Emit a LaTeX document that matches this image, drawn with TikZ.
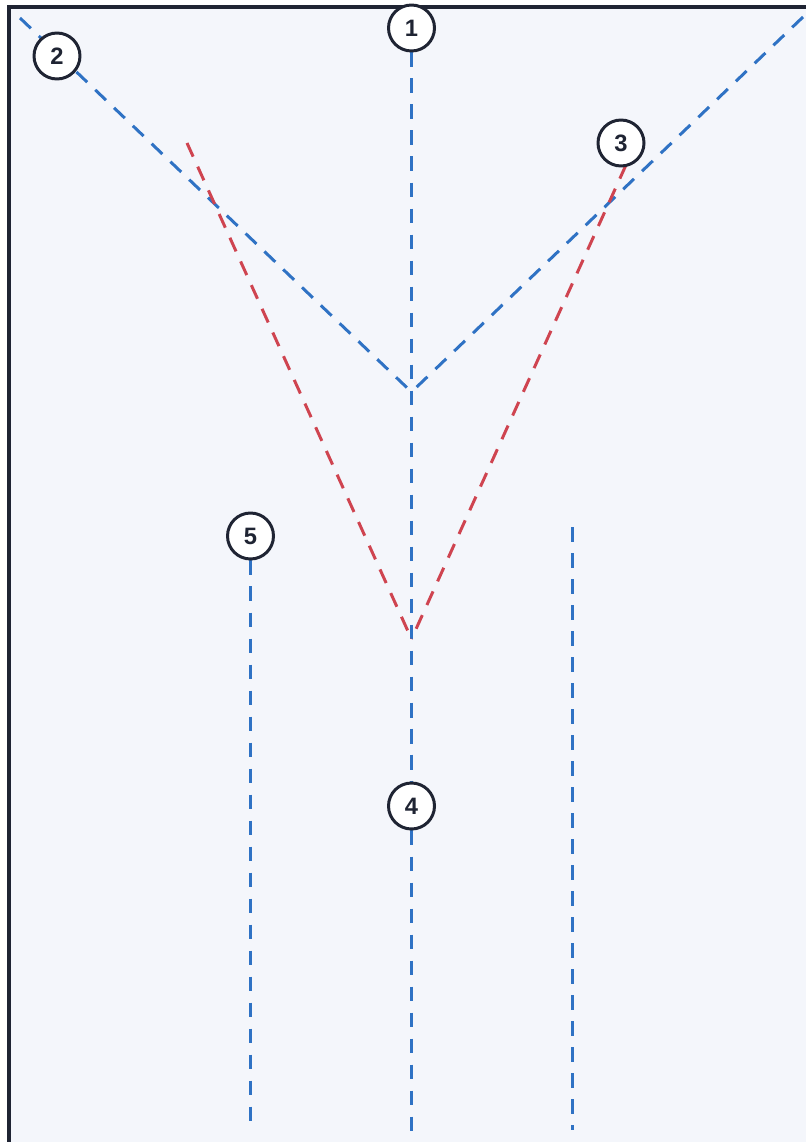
\documentclass[tikz,border=0pt]{standalone}
\usepackage{fontspec}
\setmainfont{Liberation Sans}
\usepackage{xcolor}
\usetikzlibrary{backgrounds}
\definecolor{framecol}{HTML}{1F2433}
\definecolor{bgcol}{HTML}{F4F6FB}
\definecolor{guideblue}{HTML}{2F72C4}
\definecolor{guidered}{HTML}{CF4450}

\begin{document}
\begin{tikzpicture}[
    x=0.02cm, y=-0.02cm,
    marker/.style={circle, draw=framecol, line width=1.7pt, fill=white, minimum size=0.92cm, inner sep=0pt, font=\fontsize{13.5}{15}\selectfont\bfseries, text=framecol},
    guide/.style={draw=guideblue, line width=1.7pt, dash pattern=on 8.5pt off 6.3pt},
    spread/.style={draw=guidered, line width=1.7pt, dash pattern=on 8.5pt off 6.3pt},
]
\useasboundingbox (0,0) rectangle (806,1142);

% Points
\coordinate (topleft) at (20,18);
\coordinate (topright) at (803,17);
\coordinate (apex) at (411.5,392);
\coordinate (vertex) at (411.5,639);
\coordinate (redstartL) at (187,143);
\coordinate (redstartR) at (626,165);
\coordinate (bottomA) at (411.5,1142);
\coordinate (bottomL) at (250.5,1130);
\coordinate (topR) at (572.5,527);
\coordinate (bottomR) at (572.5,1130);

% Markers
\node[marker] (one) at (411.5,28) {1};
\node[marker] (two) at (57,56) {2};
\node[marker] (three) at (621,143) {3};
\node[marker] (four) at (411.5,806) {4};
\node[marker] (five) at (250.5,536) {5};

\begin{scope}[on background layer]
% Frame
\fill[bgcol] (9,7) rectangle (806,1142);
\draw[framecol, line width=1.8pt] (9,1142) -- (9,7) -- (806,7);

% Blue guides
\draw[guide] (topleft) -- (apex);
\draw[guide] (topright) -- (apex);
\draw[guide] (one) -- (four);
\draw[guide] (four) -- (bottomA);
\draw[guide] (five) -- (bottomL);
\draw[guide] (topR) -- (bottomR);

% Red guides
\draw[spread] (redstartL) -- (vertex);
\draw[spread] (redstartR) -- (vertex);
\end{scope}

\end{tikzpicture}
\end{document}
